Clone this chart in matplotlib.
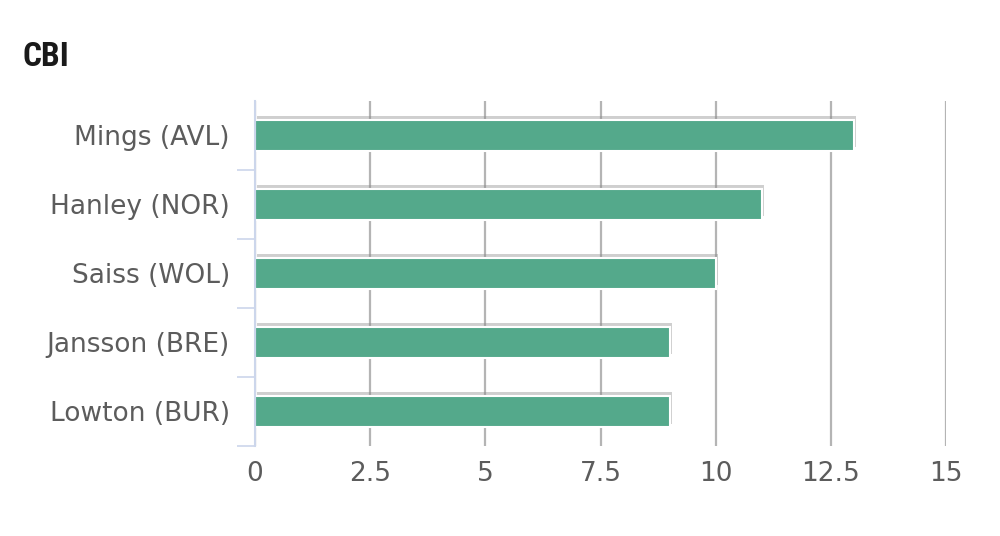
import matplotlib.pyplot as plt
import matplotlib.patheffects as pe
from matplotlib import font_manager

players = ["Mings (AVL)", "Hanley (NOR)", "Saiss (WOL)", "Jansson (BRE)", "Lowton (BUR)"]
cbi = [13, 11, 10, 9, 9]
xticks = [0, 2.5, 5, 7.5, 10, 12.5, 15]
xtick_labels = ["0", "2.5", "5", "7.5", "10", "12.5", "15"]

BAR_COLOR = "#54a98b"
AXIS_COLOR = "#ccd6eb"
GRID_COLOR = "#b4b4b4"
TEXT_COLOR = "#5c5c5c"

names = {f.name for f in font_manager.fontManager.ttflist}
title_font = "DejaVu Sans"
for cand in ["Roboto Condensed", "Liberation Sans Narrow", "Roboto"]:
    if cand in names:
        title_font = cand
        break

fig = plt.figure(figsize=(10, 5.36), dpi=100)
ax = fig.add_axes([0.255, 0.168, 0.691, 0.6437])

y = list(range(len(players)))
bars = ax.barh(y, cbi, height=0.45, color=BAR_COLOR, edgecolor="white",
               linewidth=1.5, zorder=3)
for b in bars:
    b.set_path_effects([pe.SimplePatchShadow(offset=(1.5, 2.5), shadow_rgbFace="#888888", alpha=0.4),
                        pe.Normal()])

ax.set_xlim(0, 15)
ax.set_ylim(len(players) - 0.5, -0.5)
ax.set_xticks(xticks)
ax.set_xticklabels(xtick_labels)
ax.set_yticks(y)
ax.set_yticklabels(players)
ax.set_yticks([i + 0.5 for i in y], minor=True)

ax.tick_params(axis="x", length=0, pad=11, labelsize=19, labelcolor=TEXT_COLOR)
ax.tick_params(axis="y", which="major", length=0, pad=18, labelsize=19, labelcolor=TEXT_COLOR)
ax.tick_params(axis="y", which="minor", length=13, width=1.2, color=AXIS_COLOR, direction="out")

ax.grid(True, axis="x", color=GRID_COLOR, linewidth=1.6, zorder=0)
ax.set_axisbelow(True)
for side in ["top", "right", "bottom"]:
    ax.spines[side].set_visible(False)
ax.spines["left"].set_color(AXIS_COLOR)
ax.spines["left"].set_linewidth(1.5)
ax.spines["left"].set_zorder(4)

fig.text(0.022, 0.893, "CBI", fontsize=24, fontweight="bold", color="#1a1a1a",
         family=[title_font, "DejaVu Sans"], va="center", ha="left")

fig.savefig("out.png", dpi=100)
